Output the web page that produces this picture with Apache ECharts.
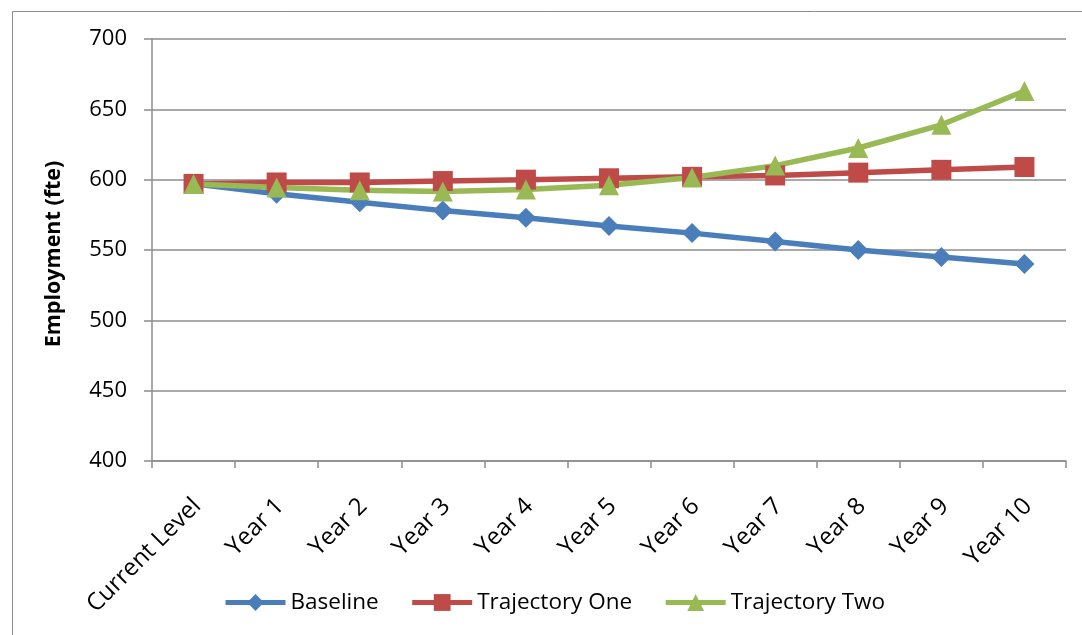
<!DOCTYPE html>
<html>
<head>
<meta charset="utf-8">
<script src="https://cdn.jsdelivr.net/npm/echarts@6/dist/echarts.min.js"></script>
<style>
html,body{margin:0;padding:0;background:#fff;}
#chart{width:1082px;height:635px;}
</style>
</head>
<body>
<div id="chart"></div>
<script>
var categories = ['Current Level','Year 1','Year 2','Year 3','Year 4','Year 5','Year 6','Year 7','Year 8','Year 9','Year 10'];
var baseline = [597, 590, 584, 578, 573, 567, 562, 556, 550, 545, 540];
var trajectoryOne = [597, 598, 598, 599, 600, 601, 602, 603, 605, 607, 609];
var trajectoryTwo = [597, 594.5, 592.5, 591.5, 593, 596, 601.5, 610, 622.5, 639, 663];
var seriesNames = ['Baseline', 'Trajectory One', 'Trajectory Two'];
var yAxisName = 'Employment (fte)';

var colors = ['#4a7ebb', '#be4b48', '#98b954'];
var FONT = '"Open Sans", sans-serif';

var chart = echarts.init(document.getElementById('chart'), null, {renderer: 'canvas'});

function mkSeries(name, data, symbol, color) {
  return {
    name: name,
    type: 'line',
    data: data,
    symbol: symbol,
    symbolSize: 20,
    lineStyle: {color: color, width: 5.5},
    itemStyle: {color: color},
    emphasis: {disabled: true},
    animation: false
  };
}

chart.setOption({
  animation: false,
  backgroundColor: '#fff',
  graphic: [{
    type: 'rect',
    shape: {x: 12.5, y: 11.5, width: 1200, height: 1000},
    style: {fill: 'none', stroke: '#8c8c8c', lineWidth: 1},
    silent: true,
    z: -1
  }],
  grid: {left: 152, right: 16, top: 39, bottom: 174, containLabel: false},
  legend: {
    data: seriesNames,
    bottom: 16,
    left: 218,
    itemWidth: 60,
    itemHeight: 21,
    itemGap: 31,
    lineStyle: {width: 5},
    textStyle: {fontFamily: FONT, fontSize: 22.5, color: '#000'}
  },
  xAxis: {
    type: 'category',
    data: categories,
    boundaryGap: true,
    axisLine: {lineStyle: {color: '#8c8c8c', width: 1.5}},
    axisTick: {show: true, length: 7, lineStyle: {color: '#8c8c8c', width: 1.5}},
    axisLabel: {
      rotate: 45,
      interval: 0,
      margin: 28,
      verticalAlign: 'top',
      padding: [0, 7, 0, 0],
      fontFamily: FONT,
      fontSize: 24,
      color: '#000'
    }
  },
  yAxis: {
    type: 'value',
    min: 400,
    max: 700,
    interval: 50,
    name: yAxisName,
    nameLocation: 'middle',
    nameRotate: 90,
    nameGap: 87,
    nameTextStyle: {fontFamily: FONT, fontSize: 21.5, fontWeight: 'bold', color: '#000', padding: [0, 8, 0, 0]},
    axisLine: {show: true, lineStyle: {color: '#8c8c8c', width: 1.5}},
    axisTick: {show: true, length: 8, lineStyle: {color: '#8c8c8c', width: 1.5}},
    axisLabel: {margin: 25, fontFamily: FONT, fontSize: 22, color: '#000'},
    splitLine: {show: true, lineStyle: {color: '#8c8c8c', width: 1.5}}
  },
  series: [
    mkSeries(seriesNames[0], baseline, 'diamond', colors[0]),
    mkSeries(seriesNames[1], trajectoryOne, 'rect', colors[1]),
    mkSeries(seriesNames[2], trajectoryTwo, 'triangle', colors[2])
  ]
});
</script>
</body>
</html>
